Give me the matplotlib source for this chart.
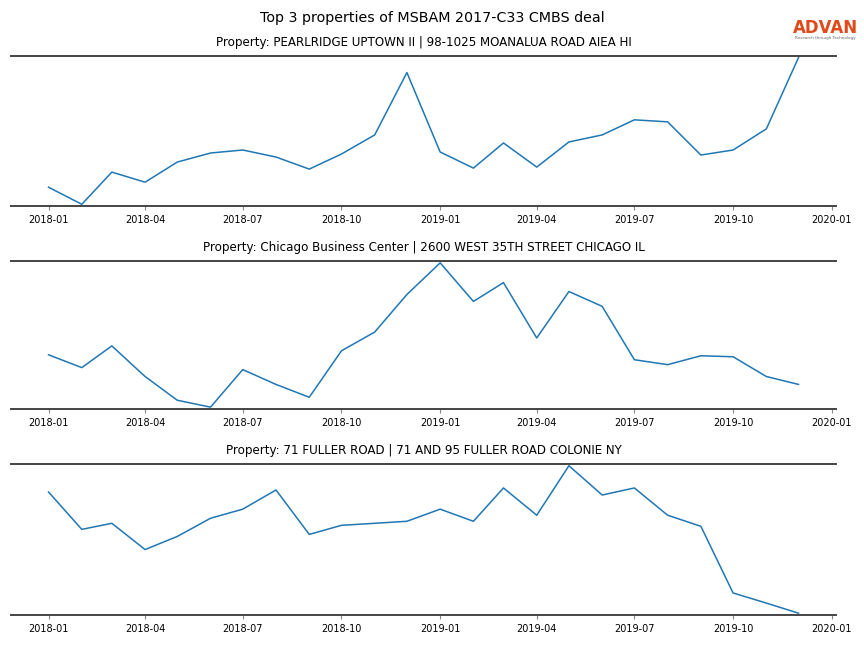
import numpy as np
import pandas as pd
import matplotlib
matplotlib.use("Agg")
import matplotlib.pyplot as plt
import matplotlib.dates as mdates

# monthly index (relative units, y axis is hidden in the original)
months = pd.date_range("2018-01-01", "2019-12-01", freq="MS")

titles = [
    "Property: PEARLRIDGE UPTOWN II | 98-1025 MOANALUA ROAD AIEA HI",
    "Property: Chicago Business Center | 2600 WEST 35TH STREET CHICAGO IL",
    "Property: 71 FULLER ROAD | 71 AND 95 FULLER ROAD COLONIE NY",
]

pearlridge = [19, 2, 34, 24, 44, 53, 56, 49, 37, 52, 71, 133,
              54, 38, 63, 39, 64, 71, 86, 84, 51, 56, 77, 148]
chicago = [53, 40, 62, 31, 7, 0, 38, 23, 10, 57, 76, 114,
           146, 107, 126, 70, 117, 102, 48, 43, 52, 51, 31, 23]
fuller = [122, 85, 91, 65, 78, 96, 105, 124, 80, 89, 91, 93,
          105, 93, 126, 99, 148, 119, 126, 99, 88, 22, 12, 2]

series = [pearlridge, chicago, fuller]

fig = plt.figure(figsize=(8.64, 6.48), dpi=100)
fig.suptitle("Top 3 properties of MSBAM 2017-C33 CMBS deal", y=0.983, fontsize=10.3)

# axes boxes [left, bottom, width, height] in figure fractions
boxes = [
    [0.0127, 0.682, 0.955, 0.232],
    [0.0127, 0.369, 0.955, 0.228],
    [0.0127, 0.051, 0.955, 0.233],
]

for box, title, vals in zip(boxes, titles, series):
    ax = fig.add_axes(box)
    ax.plot(months, vals, color="#1f77b4", linewidth=1.1)
    ax.set_title(title, fontsize=8.6, pad=7)
    pad = (max(vals) - min(vals)) * 0.012
    ax.set_ylim(min(vals) - pad, max(vals) + pad)
    ax.set_yticks([])
    ax.xaxis.set_major_locator(mdates.MonthLocator(bymonth=[1, 4, 7, 10]))
    ax.xaxis.set_major_formatter(mdates.DateFormatter("%Y-%m"))
    ax.set_xlim(pd.Timestamp("2018-01-01") - pd.Timedelta(days=35),
                pd.Timestamp("2019-12-01") + pd.Timedelta(days=35))
    ax.tick_params(axis="x", labelsize=7, length=3, color="#888888")
    for s in ["left", "right"]:
        ax.spines[s].set_visible(False)
    for s in ["top", "bottom"]:
        ax.spines[s].set_color("#444444")
        ax.spines[s].set_linewidth(1.4)

# logo
fig.text(0.955, 0.957, "ADVAN", ha="center", va="center", fontsize=12,
         color="#e04a1a", fontweight="bold")
fig.text(0.955, 0.941, "Research through Technology", ha="center", va="center",
         fontsize=3, color="#666666")

fig.savefig("out.png", dpi=100)
